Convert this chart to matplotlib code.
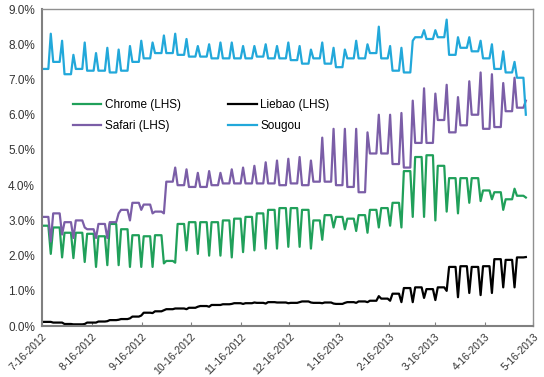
import numpy as np
import pandas as pd
import matplotlib
matplotlib.use("Agg")
import matplotlib.pyplot as plt
import matplotlib.dates as mdates
from matplotlib.ticker import FuncFormatter

plt.rcParams['font.family'] = ['Liberation Sans', 'DejaVu Sans']

# weekly readings (%), 43 weeks starting Monday 7-16-2012
# "wd" = weekday level, "we" = weekend level
chrome_wd = [2.85, 2.8, 2.65, 2.65, 2.62, 2.55, 2.9, 2.75, 2.58, 2.55, 2.58, 1.85, 2.9,
             2.95, 2.95, 2.95, 3.0, 3.05, 3.1, 3.2, 3.3, 3.35, 3.35, 3.3, 3.0, 3.15,
             3.1, 3.05, 3.15, 3.3, 3.35, 3.5, 4.4, 4.8, 4.85, 4.55, 4.2, 4.2, 4.2,
             3.85, 3.8, 3.6, 3.7]
chrome_we = [2.05, 1.95, 1.93, 1.82, 1.68, 1.73, 1.73, 1.68, 1.68, 1.68, 1.78, 1.8, 2.15,
             2.05, 2.0, 2.0, 1.95, 2.1, 2.15, 2.2, 2.2, 2.25, 2.25, 2.2, 2.45, 2.8,
             2.75, 2.7, 2.65, 2.8, 2.85, 2.8, 3.1, 3.1, 3.0, 3.25, 3.2, 3.5, 3.55,
             3.6, 3.3, 3.9, 3.65]

liebao_wd = [0.12, 0.1, 0.06, 0.05, 0.1, 0.13, 0.17, 0.2, 0.27, 0.38, 0.42, 0.48, 0.5,
             0.52, 0.57, 0.6, 0.62, 0.65, 0.65, 0.66, 0.68, 0.67, 0.66, 0.7, 0.66, 0.67,
             0.63, 0.68, 0.7, 0.72, 0.78, 0.92, 1.08, 1.1, 1.05, 1.1, 1.68, 1.7, 1.68,
             1.7, 1.9, 1.88, 1.95]
liebao_we = [0.12, 0.1, 0.05, 0.06, 0.1, 0.14, 0.18, 0.22, 0.3, 0.37, 0.45, 0.5, 0.48,
             0.55, 0.55, 0.6, 0.63, 0.63, 0.67, 0.64, 0.67, 0.65, 0.68, 0.67, 0.65, 0.64,
             0.66, 0.66, 0.68, 0.85, 0.72, 0.68, 0.68, 0.8, 0.74, 1.0, 0.82, 0.94, 0.88,
             0.94, 1.1, 1.1, 1.96]

safari_wd = [3.1, 3.2, 2.95, 3.0, 2.75, 2.9, 2.95, 3.3, 3.5, 3.45, 3.25, 4.1, 4.0,
             3.95, 3.95, 4.0, 4.05, 4.05, 4.05, 4.05, 4.05, 4.0, 4.05, 4.0, 4.1, 4.1,
             4.0, 3.95, 3.8, 4.9, 4.9, 4.6, 4.5, 5.2, 5.2, 5.85, 5.5, 5.7, 6.0,
             5.6, 5.65, 6.1, 6.2]
safari_we = [2.4, 2.6, 2.5, 2.8, 2.5, 2.5, 3.2, 3.0, 3.3, 3.2, 3.2, 4.5, 4.45,
             4.35, 4.4, 4.35, 4.45, 4.5, 4.55, 4.65, 4.7, 4.75, 4.8, 4.7, 5.35, 5.6,
             5.6, 5.6, 5.5, 6.0, 6.0, 6.05, 6.4, 6.75, 6.6, 6.85, 6.5, 6.95, 7.2,
             7.15, 6.9, 7.05, 6.4]

sougou_wd = [7.3, 7.5, 7.15, 7.3, 7.25, 7.25, 7.2, 7.25, 7.5, 7.6, 7.75, 7.75, 7.7,
             7.65, 7.65, 7.6, 7.6, 7.6, 7.6, 7.65, 7.6, 7.6, 7.55, 7.45, 7.6, 7.45,
             7.35, 7.6, 7.6, 7.75, 7.6, 7.25, 7.2, 8.2, 8.15, 8.2, 7.7, 7.9, 7.8,
             7.6, 7.3, 7.2, 7.05]
sougou_we = [8.3, 8.1, 7.7, 8.05, 7.75, 7.9, 7.85, 7.95, 8.1, 8.05, 8.25, 8.3, 8.15,
             7.95, 8.0, 8.05, 8.05, 7.95, 7.95, 8.0, 7.95, 8.05, 7.95, 7.85, 8.05, 7.9,
             7.85, 8.1, 8.0, 8.5, 7.95, 7.9, 8.1, 8.4, 8.4, 8.7, 8.2, 8.2, 8.1,
             8.0, 7.8, 7.5, 6.0]

tick_labels = ['7-16-2012', '8-16-2012', '9-16-2012', '10-16-2012', '11-16-2012',
               '12-16-2012', '1-16-2013', '2-16-2013', '3-16-2013', '4-16-2013',
               '5-16-2013']

start = mdates.date2num(pd.Timestamp('2012-07-16'))
nweeks = len(chrome_wd)
day_off = np.array([0, 4, 5.5])
x = (np.arange(nweeks)[:, None] * 7 + day_off[None, :]).ravel() + start


def weekly(wd, we):
    wd = np.array(wd) / 100
    we = np.array(we) / 100
    return np.column_stack([wd, wd, we]).ravel()


fig = plt.figure(figsize=(5.44, 3.77), dpi=100)
ax = fig.add_axes([0.077, 0.135, 0.903, 0.841])

l_chrome, = ax.plot(x, weekly(chrome_wd, chrome_we), color='#20A05A', lw=1.6, label='Chrome (LHS)')
l_liebao, = ax.plot(x, weekly(liebao_wd, liebao_we), color='black', lw=1.6, label='Liebao (LHS)')
l_safari, = ax.plot(x, weekly(safari_wd, safari_we), color='#7B5EA7', lw=1.6, label='Safari (LHS)')
l_sougou, = ax.plot(x, weekly(sougou_wd, sougou_we), color='#22A8DA', lw=1.6, label='Sougou')

ticks = [mdates.date2num(pd.Timestamp(f'{t.split("-")[2]}-{t.split("-")[0]}-16')) for t in tick_labels]
ax.set_xticks(ticks)
ax.set_xticklabels(tick_labels, rotation=45, ha='right', rotation_mode='anchor', fontsize=7.5, color='#333333')
ax.set_xlim(ticks[0], ticks[-1])

ax.set_ylim(0, 0.09)
ax.set_yticks(np.arange(0, 0.091, 0.01))
ax.yaxis.set_major_formatter(FuncFormatter(lambda v, p: f'{v * 100:.1f}%'))
ax.tick_params(axis='y', labelsize=8.5, colors='#333333', length=0, pad=5)
ax.tick_params(axis='x', direction='in', length=3, color='#808080', pad=4)

for s in ['left', 'bottom']:
    ax.spines[s].set_color('#808080')
    ax.spines[s].set_linewidth(1.5)
for s in ['top', 'right']:
    ax.spines[s].set_color('#909090')
    ax.spines[s].set_linewidth(1.0)

ax.legend(handles=[l_chrome, l_safari, l_liebao, l_sougou], ncol=2, frameon=False,
          loc='upper left', bbox_to_anchor=(0.042, 0.75), fontsize=8.5,
          handlelength=2.4, handletextpad=0.3, columnspacing=4.0, labelspacing=0.75)

fig.savefig('out.png', dpi=100)
